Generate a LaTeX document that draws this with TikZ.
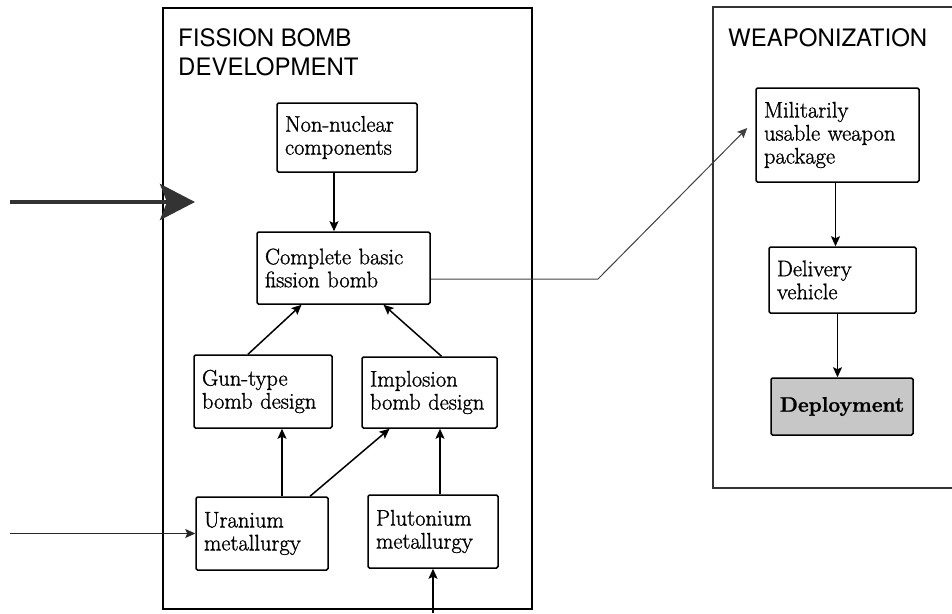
\documentclass[tikz,border=0pt]{standalone}
\usepackage{fontspec}
\newfontfamily\headfont{TeX Gyre Heros}
\newfontfamily\boxfont{Latin Modern Roman}[FakeBold=1.2]
\usetikzlibrary{arrows.meta}

\tikzset{
  stepbox/.style={draw, line width=1.5pt, rounded corners=1.5pt, align=left,
    inner xsep=8pt, inner ysep=0pt, font=\boxfont\fontsize{22.5}{23}\selectfont},
  frame/.style={draw, line width=1.2pt},
  heading/.style={anchor=north west, inner sep=0pt, align=left,
    font=\headfont\fontsize{24}{29}\selectfont},
  arr/.style={-{Stealth[length=10pt,width=9pt,inset=2pt]}, line width=1.5pt},
  bigarr/.style={-{Stealth[length=35pt,width=36pt,inset=7pt]}, line width=4pt, black!80},
  link/.style={-{Stealth[length=10pt,width=9pt,inset=2pt]}, line width=1pt, black!75}
}

\begin{document}
\begin{tikzpicture}[x=1pt, y=-1pt]
  \useasboundingbox (0,0) rectangle (952,613);
  \clip (0,0) rectangle (952,613);

  % the two frames
  \draw[frame] (163,8) rectangle (532,609);
  \draw[frame, black!80] (962,7) -- (713,7) -- (713,488) -- (962,488);
  \node[heading] (devhead) at (178,28) {FISSION BOMB\\DEVELOPMENT};
  \node[heading] (weaphead) at (728,28) {WEAPONIZATION};

  % fission bomb development
  \node[stepbox, text width=124pt, minimum height=69pt] (nonnuc) at (347,137.5) {Non-nuclear\\components};
  \node[stepbox, text width=157pt, minimum height=72pt] (complete) at (343.5,268) {Complete basic\\fission bomb};
  \node[stepbox, text width=122pt, minimum height=73pt] (gun) at (263,391.5) {Gun-type\\bomb design};
  \node[stepbox, text width=119pt, minimum height=71pt] (implosion) at (429.5,392.5) {Implosion\\bomb design};
  \node[stepbox, text width=116pt, minimum height=73pt] (uranium) at (262,533.5) {Uranium\\metallurgy};
  \node[stepbox, text width=114pt, minimum height=73pt] (plutonium) at (433,531.5) {Plutonium\\metallurgy};

  % weaponization
  \node[stepbox, text width=147pt, minimum height=94pt] (military) at (837.5,135) {Militarily\\usable weapon\\package};
  \node[stepbox, text width=131pt, minimum height=66pt] (delivery) at (842.5,280) {Delivery\\vehicle};
  \node[stepbox, fill=black!22, align=center, inner xsep=6pt, text width=130pt, minimum height=57pt,
    font=\boxfont\fontsize{21}{23}\selectfont\bfseries] (deploy) at (842,406.5) {Deployment};

  % inputs from outside
  \coordinate (inA) at (10,202);
  \coordinate (tipA) at (195,202);
  \coordinate (inB) at (10,533.5);
  \coordinate (inC) at (433,613);
  \draw[bigarr] (inA) -- (tipA);
  \draw[arr, line width=1.3pt, black!85] (inB) -- (uranium.west);
  \draw[arr] (inC) -- (plutonium.south);

  \draw[arr] ([xshift=-13pt]nonnuc.south) -- ([xshift=-13pt]nonnuc.south |- complete.north);
  \draw[arr] ([xshift=-15pt]gun.north) -- ([xshift=-42pt]complete.south);
  \draw[arr] ([xshift=12pt]implosion.north) -- ([xshift=40pt]complete.south);
  \draw[arr] ([xshift=20pt]uranium.north) -- ([xshift=20pt]uranium.north |- gun.south);
  \draw[arr] ([xshift=48pt]uranium.north) -- ([xshift=-40pt]implosion.south);
  \draw[arr] ([xshift=7pt]plutonium.north) -- ([xshift=7pt]plutonium.north |- implosion.south);

  % to weaponization
  \coordinate (bend) at (598,279);
  \draw[link] (complete.east |- bend) -- (bend) -- ([xshift=-8pt, yshift=7pt]military.west);
  \draw[arr] ([xshift=-2pt]military.south) -- ([xshift=-2pt]military.south |- delivery.north);
  \draw[arr] ([xshift=-5pt]delivery.south) -- ([xshift=-5pt]delivery.south |- deploy.north);
\end{tikzpicture}
\end{document}
